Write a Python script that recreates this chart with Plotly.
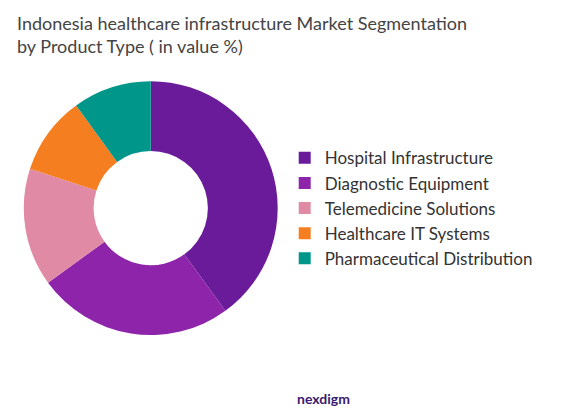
import plotly.graph_objects as go

labels = ["Hospital Infrastructure", "Diagnostic Equipment", "Telemedicine Solutions",
          "Healthcare IT Systems", "Pharmaceutical Distribution"]
values = [40, 25, 15, 10, 10]
colors = ["#6a1b9a", "#8e24aa", "#e08aa5", "#f57f20", "#00968a"]

fig = go.Figure(go.Pie(
    labels=labels, values=values, hole=0.45, sort=False, direction="clockwise",
    rotation=0, marker=dict(colors=colors), textinfo="none",
    domain=dict(x=[0.027, 0.461], y=[0.208, 0.823])))

fig.update_layout(
    width=585, height=413, margin=dict(l=0, r=0, t=0, b=0),
    paper_bgcolor="white", plot_bgcolor="white",
    font=dict(family="Lato", color="#333"),
    showlegend=True,
    legend=dict(x=0.473, y=0.515, xanchor="left", yanchor="middle",
                font=dict(size=17, color="#333"), tracegroupgap=0),
    annotations=[
        dict(text="Indonesia healthcare infrastructure Market Segmentation<br>by Product Type ( in value %)",
             x=0.012, y=0.995, xref="paper", yref="paper", xanchor="left", yanchor="top",
             align="left", showarrow=False, font=dict(size=18, color="#444", family="Lato")),
        dict(text="<b>nexdigm</b>", x=0.54, y=0.03, xref="paper", yref="paper",
             xanchor="center", yanchor="bottom", showarrow=False,
             font=dict(size=14, color="#3a1a6e", family="Lato")),
    ])
fig.write_html("out.html")
